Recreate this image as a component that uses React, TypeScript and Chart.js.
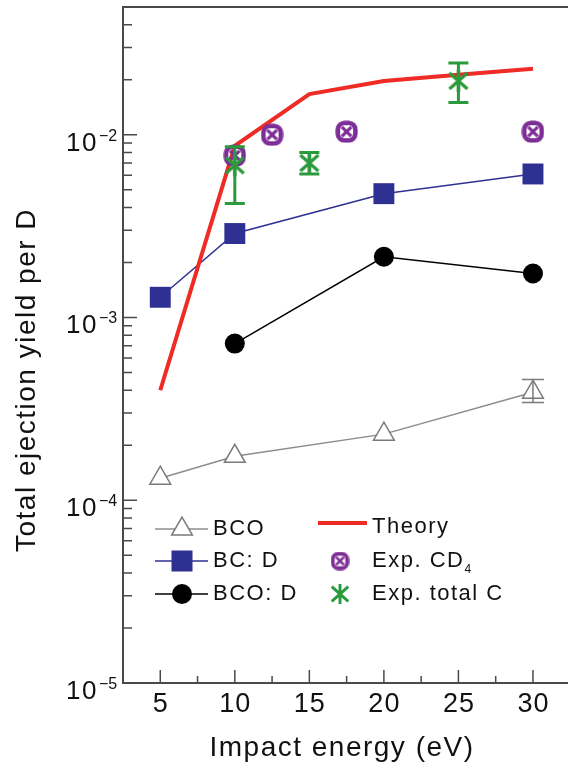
import React, { useEffect, useRef } from 'react';
import { Chart, registerables } from 'chart.js';

Chart.register(...registerables);

// ---------------- data ----------------
const energyBCO = [5, 10, 20, 30];
const yieldBCO = [1.32e-4, 1.74e-4, 2.3e-4, 3.9e-4];
const errBCOLow = [null, null, null, 3.43e-4];
const errBCOHigh = [null, null, null, 4.58e-4];

const energyBCD = [5, 10, 20, 30];
const yieldBCD = [1.29e-3, 2.88e-3, 4.76e-3, 6.1e-3];

const energyBCOD = [10, 20, 30];
const yieldBCOD = [7.2e-4, 2.15e-3, 1.74e-3];

const energyTheory = [5, 10, 15, 20, 25, 30];
const yieldTheory = [4.0e-4, 8.7e-3, 1.67e-2, 1.97e-2, 2.13e-2, 2.3e-2];

const energyCD4 = [10, 12.5, 17.5, 30];
const yieldCD4 = [7.7e-3, 1.0e-2, 1.04e-2, 1.04e-2];

const energyTotalC = [10, 15, 25];
const yieldTotalC = [6.8e-3, 7.0e-3, 1.97e-2];
const errTotalCLow = [4.2e-3, 6.1e-3, 1.5e-2];
const errTotalCHigh = [8.6e-3, 8.0e-3, 2.47e-2];

const seriesLabels = ['BCO', 'BC: D', 'BCO: D', 'Theory', 'Exp. CD₄', 'Exp. total C'];

const xTicks = [5, 10, 15, 20, 25, 30];
const xTickLabels = ['5', '10', '15', '20', '25', '30'];
const xMinorTicks = [7.5, 12.5, 17.5, 22.5, 27.5];
const yTickValues = [1e-5, 1e-4, 1e-3, 1e-2];
const yTickBase = '10';
const yTickExponents = ['−5', '−4', '−3', '−2'];
const yMinorMultipliers = [2, 3, 4, 5, 6, 7, 8, 9];

const xTitle = 'Impact energy (eV)';
const yTitle = 'Total ejection yield per D';

// ---------------- styles ----------------
const F = '"Liberation Sans", Arial, Helvetica, sans-serif';
const GRAY = '#8c8c8c';
const NAVY = '#2e3192';
const BLACK = '#000000';
const RED = '#ee2b24';
const PURPLE = '#7d2e96';
const GREEN = '#2b9a3c';
const AXIS = '#4a4a4a';
const TEXT = '#111111';

function makeCD4Marker(size: number): HTMLCanvasElement {
  const c = document.createElement('canvas');
  c.width = size;
  c.height = size;
  const g = c.getContext('2d')!;
  const s = size / 22;
  g.strokeStyle = PURPLE;
  g.lineWidth = 4.4 * s;
  g.beginPath();
  if ((g as any).roundRect) {
    (g as any).roundRect(2.6 * s, 2.6 * s, 16.8 * s, 16.8 * s, 6.5 * s);
  } else {
    g.arc(size / 2, size / 2, 8.4 * s, 0, Math.PI * 2);
  }
  g.stroke();
  g.lineWidth = 3 * s;
  g.beginPath();
  g.moveTo(6.5 * s, 6.5 * s);
  g.lineTo(15.5 * s, 15.5 * s);
  g.moveTo(15.5 * s, 6.5 * s);
  g.lineTo(6.5 * s, 15.5 * s);
  g.stroke();
  return c;
}

function makeTotalCMarker(size: number): HTMLCanvasElement {
  const c = document.createElement('canvas');
  c.width = size;
  c.height = size;
  const g = c.getContext('2d')!;
  const s = size / 24;
  g.strokeStyle = GREEN;
  g.lineWidth = 3.2 * s;
  g.lineCap = 'butt';
  g.beginPath();
  g.moveTo(12 * s, 1 * s);
  g.lineTo(12 * s, 23 * s);
  g.moveTo(3 * s, 4 * s);
  g.lineTo(21 * s, 20 * s);
  g.moveTo(21 * s, 4 * s);
  g.lineTo(3 * s, 20 * s);
  g.stroke();
  return c;
}

const pts = (xs: number[], ys: number[]) => xs.map((x, i) => ({ x, y: ys[i] }));

function drawSpaced(ctx: CanvasRenderingContext2D, text: string, x: number, y: number, spacing: number) {
  (ctx as any).letterSpacing = spacing + 'px';
  ctx.fillText(text, x, y);
  (ctx as any).letterSpacing = '0px';
}

export default function App() {
  const ref = useRef<HTMLCanvasElement>(null);

  useEffect(() => {
    document.body.style.margin = '0';
    const cv = ref.current!;
    const cd4Marker = makeCD4Marker(23);
    const cd4Legend = makeCD4Marker(19);
    const totalCMarker = makeTotalCMarker(24);
    const totalCLegend = makeTotalCMarker(22);

    const errorBarPlugin = {
      id: 'errorBars',
      afterDatasetsDraw(chart: any) {
        const { ctx, scales } = chart;
        const xs = scales.x;
        const ys = scales.y;
        const drawBars = (ex: number[], lo: (number | null)[], hi: (number | null)[], color: string, lw: number, cap: number) => {
          ctx.save();
          ctx.strokeStyle = color;
          ctx.lineWidth = lw;
          ctx.beginPath();
          ex.forEach((x, i) => {
            const l = lo[i];
            const h = hi[i];
            if (l == null || h == null) return;
            const px = xs.getPixelForValue(x);
            const pl = ys.getPixelForValue(l);
            const ph = ys.getPixelForValue(h);
            ctx.moveTo(px, pl);
            ctx.lineTo(px, ph);
            ctx.moveTo(px - cap, pl);
            ctx.lineTo(px + cap, pl);
            ctx.moveTo(px - cap, ph);
            ctx.lineTo(px + cap, ph);
          });
          ctx.stroke();
          ctx.restore();
        };
        drawBars(energyBCO, errBCOLow, errBCOHigh, '#7a7a7a', 1.5, 11);
        drawBars(energyTotalC, errTotalCLow, errTotalCHigh, GREEN, 3, 10);
      },
    };

    const axesPlugin = {
      id: 'customAxes',
      afterDraw(chart: any) {
        const { ctx, chartArea: ca, scales } = chart;
        const xs = scales.x;
        const ys = scales.y;
        ctx.save();
        // frame
        ctx.strokeStyle = AXIS;
        ctx.lineWidth = 2;
        ctx.beginPath();
        ctx.moveTo(ca.right, ca.top);
        ctx.lineTo(ca.left, ca.top);
        ctx.lineTo(ca.left, ca.bottom);
        ctx.lineTo(ca.right, ca.bottom);
        ctx.stroke();
        // ticks
        ctx.lineWidth = 1.5;
        ctx.beginPath();
        xTicks.forEach((v) => {
          const p = xs.getPixelForValue(v);
          ctx.moveTo(p, ca.bottom);
          ctx.lineTo(p, ca.bottom - 13);
        });
        xMinorTicks.forEach((v) => {
          const p = xs.getPixelForValue(v);
          ctx.moveTo(p, ca.bottom);
          ctx.lineTo(p, ca.bottom - 7);
        });
        yTickValues.forEach((v) => {
          const p = ys.getPixelForValue(v);
          ctx.moveTo(ca.left, p);
          ctx.lineTo(ca.left + 14, p);
          yMinorMultipliers.forEach((m) => {
            const mv = m * v;
            if (mv >= ys.max) return;
            const mp = ys.getPixelForValue(mv);
            ctx.moveTo(ca.left, mp);
            ctx.lineTo(ca.left + 9, mp);
          });
        });
        ctx.stroke();

        ctx.fillStyle = TEXT;
        // x tick labels
        ctx.font = `27px ${F}`;
        ctx.textAlign = 'center';
        ctx.textBaseline = 'alphabetic';
        xTicks.forEach((v, i) => {
          const p = xs.getPixelForValue(v);
          drawSpaced(ctx, xTickLabels[i], p + 0.5, ca.bottom + 29, 1);
        });

        // y tick labels with superscripts
        yTickValues.forEach((v, i) => {
          const p = ys.getPixelForValue(v);
          ctx.font = `26px ${F}`;
          ctx.textAlign = 'right';
          ctx.textBaseline = 'alphabetic';
          drawSpaced(ctx, yTickBase, ca.left - 25, p + 16, 1.5);
          ctx.font = `16px ${F}`;
          ctx.textAlign = 'left';
          ctx.fillText(yTickExponents[i], ca.left - 24, p + 6);
        });

        // axis titles
        ctx.font = `28px ${F}`;
        ctx.textAlign = 'center';
        ctx.textBaseline = 'middle';
        drawSpaced(ctx, xTitle, 342, 748, 1.5);
        ctx.save();
        ctx.translate(27, 380);
        ctx.rotate(-Math.PI / 2);
        drawSpaced(ctx, yTitle, 0, 0, 1.5);
        ctx.restore();

        // legend
        const rowsY = [529, 561, 594];
        const leftMarkX = 182;
        const leftTextX = 213;
        const rightMarkX = 340;
        const rightTextX = 372;
        ctx.lineWidth = 1.5;
        // BCO
        ctx.strokeStyle = GRAY;
        ctx.beginPath();
        ctx.moveTo(155, rowsY[0]);
        ctx.lineTo(208, rowsY[0]);
        ctx.stroke();
        ctx.beginPath();
        const r = 12;
        ctx.moveTo(leftMarkX, rowsY[0] - r);
        ctx.lineTo(leftMarkX + r * Math.sin((2 * Math.PI) / 3), rowsY[0] + r / 2);
        ctx.lineTo(leftMarkX - r * Math.sin((2 * Math.PI) / 3), rowsY[0] + r / 2);
        ctx.closePath();
        ctx.fillStyle = '#ffffff';
        ctx.fill();
        ctx.strokeStyle = '#7a7a7a';
        ctx.stroke();
        // BC: D
        ctx.strokeStyle = NAVY;
        ctx.beginPath();
        ctx.moveTo(155, rowsY[1]);
        ctx.lineTo(208, rowsY[1]);
        ctx.stroke();
        ctx.fillStyle = NAVY;
        ctx.fillRect(leftMarkX - 10.5, rowsY[1] - 10.5, 21, 21);
        // BCO: D
        ctx.strokeStyle = BLACK;
        ctx.beginPath();
        ctx.moveTo(155, rowsY[2]);
        ctx.lineTo(208, rowsY[2]);
        ctx.stroke();
        ctx.fillStyle = BLACK;
        ctx.beginPath();
        ctx.arc(leftMarkX, rowsY[2], 10, 0, Math.PI * 2);
        ctx.fill();
        // Theory
        ctx.strokeStyle = RED;
        ctx.lineWidth = 4;
        ctx.beginPath();
        ctx.moveTo(318, 523);
        ctx.lineTo(367, 523);
        ctx.stroke();
        // CD4 & total C markers
        ctx.drawImage(cd4Legend, rightMarkX - 9.5, rowsY[1] - 9.5);
        ctx.drawImage(totalCLegend, rightMarkX - 11, rowsY[2] - 11);

        // legend texts
        ctx.fillStyle = TEXT;
        ctx.font = `22px ${F}`;
        ctx.textAlign = 'left';
        ctx.textBaseline = 'middle';
        drawSpaced(ctx, seriesLabels[0], leftTextX, rowsY[0], 1.5);
        drawSpaced(ctx, seriesLabels[1], leftTextX, rowsY[1], 1.5);
        drawSpaced(ctx, seriesLabels[2], leftTextX, rowsY[2], 1.5);
        drawSpaced(ctx, seriesLabels[3], rightTextX, rowsY[0] - 2, 1.5);
        const cd4 = seriesLabels[4];
        const subIdx = cd4.indexOf('₄');
        if (subIdx >= 0) {
          const main = cd4.slice(0, subIdx);
          (ctx as any).letterSpacing = '1.5px';
          const w = ctx.measureText(main).width;
          ctx.fillText(main, rightTextX, rowsY[1]);
          (ctx as any).letterSpacing = '0px';
          ctx.font = `12px ${F}`;
          ctx.textBaseline = 'alphabetic';
          ctx.fillText('4', rightTextX + w, rowsY[1] + 12);
          ctx.font = `22px ${F}`;
          ctx.textBaseline = 'middle';
        } else {
          drawSpaced(ctx, cd4, rightTextX, rowsY[1], 1.5);
        }
        drawSpaced(ctx, seriesLabels[5], rightTextX, rowsY[2], 1.5);
        ctx.restore();
      },
    };

    const chart = new Chart(cv, {
      type: 'line',
      data: {
        datasets: [
          {
            label: seriesLabels[0],
            data: pts(energyBCO, yieldBCO),
            borderColor: GRAY,
            borderWidth: 1.5,
            pointStyle: 'triangle',
            pointRadius: 12,
            pointHoverRadius: 12,
            pointBackgroundColor: '#ffffff',
            pointBorderColor: '#7a7a7a',
            pointBorderWidth: 1.5,
            tension: 0,
            order: 6,
          },
          {
            label: seriesLabels[1],
            data: pts(energyBCD, yieldBCD),
            borderColor: NAVY,
            borderWidth: 1.5,
            pointStyle: 'rect',
            pointRadius: 14.8,
            pointHoverRadius: 14.8,
            pointBackgroundColor: NAVY,
            pointBorderColor: NAVY,
            pointBorderWidth: 0,
            tension: 0,
            order: 5,
          },
          {
            label: seriesLabels[2],
            data: pts(energyBCOD, yieldBCOD),
            borderColor: BLACK,
            borderWidth: 1.5,
            pointStyle: 'circle',
            pointRadius: 10,
            pointHoverRadius: 10,
            pointBackgroundColor: BLACK,
            pointBorderColor: BLACK,
            pointBorderWidth: 0,
            tension: 0,
            order: 4,
          },
          {
            label: seriesLabels[3],
            data: pts(energyTheory, yieldTheory),
            borderColor: RED,
            borderWidth: 4,
            pointRadius: 0,
            pointHoverRadius: 0,
            tension: 0,
            order: 3,
          },
          {
            label: seriesLabels[4],
            data: pts(energyCD4, yieldCD4),
            showLine: false,
            pointStyle: cd4Marker as any,
            pointRadius: 11,
            pointHoverRadius: 11,
            order: 2,
          },
          {
            label: seriesLabels[5],
            data: pts(energyTotalC, yieldTotalC),
            showLine: false,
            pointStyle: totalCMarker as any,
            pointRadius: 12,
            pointHoverRadius: 12,
            order: 1,
          },
        ],
      },
      options: {
        responsive: false,
        animation: false,
        devicePixelRatio: 1,
        events: [],
        layout: { autoPadding: false, padding: { top: 7, left: 0, right: 0, bottom: 0 } },
        plugins: { legend: { display: false }, tooltip: { enabled: false } },
        scales: {
          x: {
            type: 'linear',
            min: 2.5,
            max: 32.35,
            afterBuildTicks: (s: any) => {
              s.ticks = xTicks.map((v) => ({ value: v }));
            },
            afterFit: (s: any) => {
              s.height = 79;
            },
            grid: { display: false, drawTicks: false },
            border: { display: false },
            ticks: { display: false },
          },
          y: {
            type: 'logarithmic',
            min: 1e-5,
            max: 0.05,
            afterBuildTicks: (s: any) => {
              s.ticks = yTickValues.map((v) => ({ value: v }));
            },
            afterFit: (s: any) => {
              s.width = 123;
            },
            grid: { display: false, drawTicks: false },
            border: { display: false },
            ticks: { display: false },
          },
        },
      },
      plugins: [errorBarPlugin, axesPlugin],
    } as any);

    return () => chart.destroy();
  }, []);

  return (
    <div style={{ width: 568, height: 762 }}>
      <canvas ref={ref} width={568} height={762} style={{ display: 'block' }} />
    </div>
  );
}
